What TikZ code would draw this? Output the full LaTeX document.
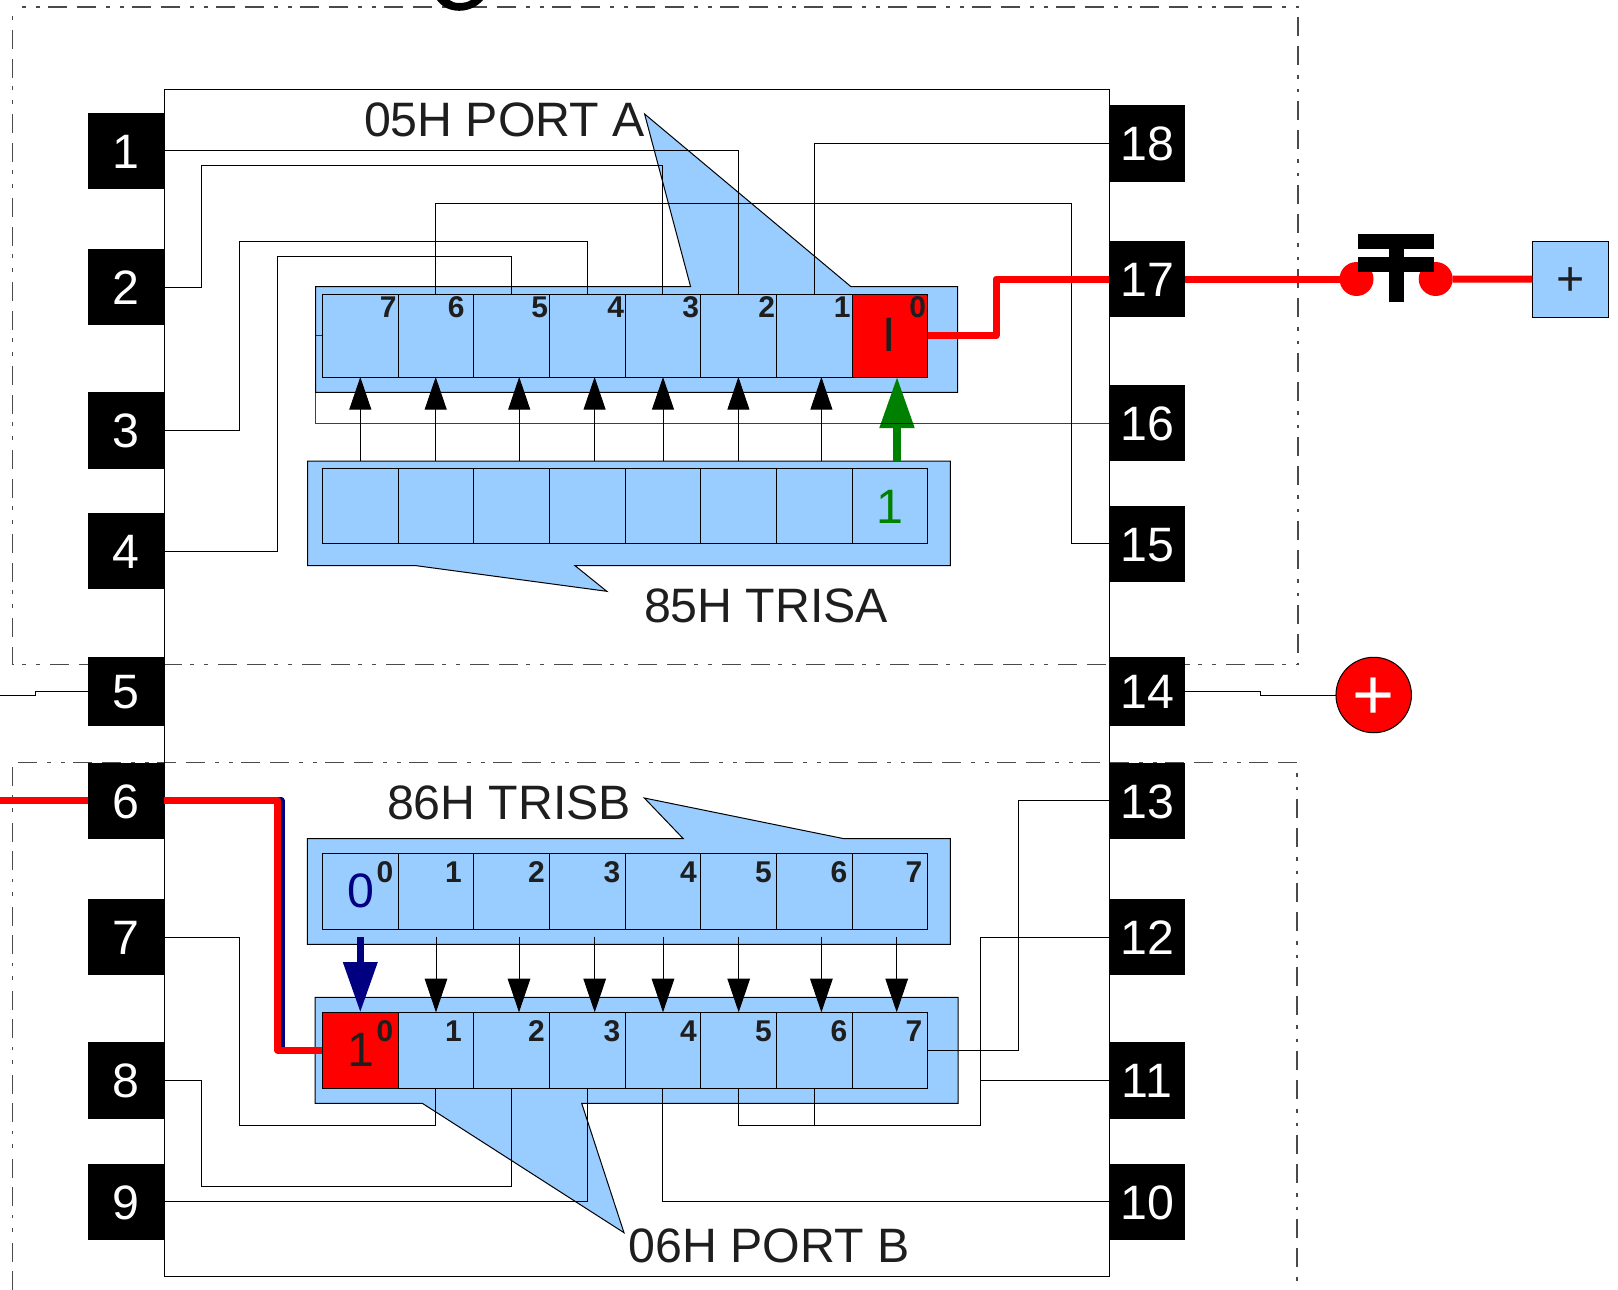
\documentclass[tikz,border=0pt]{standalone}
\usepackage{fontspec}
\setmainfont{Liberation Sans}
\usetikzlibrary{arrows.meta}
\definecolor{regblue}{HTML}{99CCFF}
\definecolor{ink}{HTML}{1E1E1E}
\definecolor{dashgrey}{HTML}{4A4A4A}
\definecolor{darkgreen}{HTML}{008000}
\definecolor{darknavy}{HTML}{000080}
\newcommand{\bigfont}{\fontsize{48.3}{48.3}\selectfont}
\newcommand{\bitfont}{\fontsize{30}{30}\selectfont\bfseries}
\tikzset{
  wire/.style={draw=black,line width=1pt},
  boundary/.style={draw=dashgrey,line width=1.5pt,dash pattern=on 19pt off 9.5pt on 19pt off 10.3pt on 4pt off 10pt on 3.5pt off 8.7pt},
  regfill/.style={fill=regblue,draw=black,line width=1pt,line join=miter},
  cellbox/.style={rectangle,fill=regblue,draw=black,line width=1pt,inner sep=0pt,outer sep=0pt,minimum width=75.7pt},
  pinbox/.style={rectangle,fill=black,inner sep=0pt,outer sep=0pt,minimum width=76.4pt,minimum height=76.4pt,text=white,font=\bigfont,text height=34.9pt,text depth=0pt},
  shortpin/.style={pinbox,minimum height=69pt},
  biglabel/.style={inner sep=0pt,outer sep=0pt,anchor=base west,text=ink,font=\bigfont},
  bitlabel/.style={inner sep=0pt,outer sep=0pt,anchor=base east,text=ink,font=\bitfont},
  cellvalue/.style={inner sep=0pt,outer sep=0pt,anchor=base,font=\bigfont},
  upflow/.style={draw=black,line width=1pt,-{Triangle[length=32.7pt,width=22pt,fill=black]}},
  downflow/.style={draw=black,line width=1pt,-{Triangle[length=33.7pt,width=22.6pt,fill=black]}},
  hotwire/.style={draw=red,line width=7pt,line join=round},
  terminal/.style={circle,fill=red,inner sep=0pt,outer sep=0pt,minimum size=34pt},
}
\begin{document}
\begin{tikzpicture}[x=1pt,y=-1pt]
\useasboundingbox (0,0) rectangle (1618,1290);
\clip (0,0) rectangle (1618,1290);

% dash-dot boundaries
\draw[boundary,dash phase=48.4pt] (12.7,6.8) -- (1298,6.8) -- (1298,664.7) -- (12.7,664.7) -- cycle;
\draw[boundary] (12.7,1290) -- (12.7,762.7) -- (1297,762.7) -- (1297,1290);

% clipped letter at the top edge
\fill[black] (437,0) .. controls (442,7) and (450,10.8) .. (459.3,10.8) .. controls (468,10.8) and (477,7) .. (483,0) -- (471,0) .. controls (468,2) and (464,3) .. (459.3,3) .. controls (455,3) and (452,2) .. (449.5,0) -- cycle;

% chip body
\draw[wire] (164.3,90) rectangle (1109,1276.7);

% register plates with callouts
\path[regfill] (315.6,286.7) -- (690.6,286.7) -- (644.6,114) -- (851,286.7) -- (957.6,286.7) -- (957.6,392.3) -- (315.6,392.3) -- cycle;
\path[regfill] (307.5,461) -- (950.4,461) -- (950.4,565.5) -- (574.8,565.5) -- (606.8,591.3) -- (414.8,565.5) -- (307.5,565.5) -- cycle;
\path[regfill] (307.3,838.7) -- (683.3,838.7) -- (644.3,798) -- (844,838.7) -- (950.4,838.7) -- (950.4,944.3) -- (307.3,944.3) -- cycle;
\path[regfill] (315,997.3) -- (958,997.3) -- (958,1103.3) -- (581.7,1103.3) -- (624,1232.7) -- (422.3,1103.3) -- (315,1103.3) -- cycle;

% register cells
\foreach \n/\x in {7/360.15,6/435.85,5/511.55,4/587.25,3/662.95,2/738.65,1/814.35,0/890.05}{
  \node[cellbox,minimum height=82.7pt] (pa\n) at (\x,335.65) {};
  \node[cellbox,minimum height=75.3pt] (ta\n) at (\x,506.15) {};
}
\foreach \n/\x in {0/360.15,1/435.85,2/511.55,3/587.25,4/662.95,5/738.65,6/814.35,7/890.05}{
  \node[cellbox,minimum height=76pt] (tb\n) at (\x,891.3) {};
  \node[cellbox,minimum height=75.7pt] (pb\n) at (\x,1050.15) {};
}
\node[cellbox,fill=red,minimum height=82.7pt] (pa0) at (890.05,335.65) {};
\node[cellbox,fill=red,minimum height=75.7pt] (pb0) at (360.15,1050.15) {};

% pins
\foreach \n/\y in {1/150.7,2/287,3/430.4,4/551,6/800.7,7/937,8/1080.4,9/1201.7}{
  \node[pinbox] (p\n) at (126,\y) {\n};
}
\foreach \n/\y in {18/143.3,17/279,16/423,15/543.8,13/800.7,12/937,11/1080.4,10/1201.7}{
  \node[pinbox] (p\n) at (1147,\y) {\n};
}
\node[shortpin] (p5) at (126,691.2) {5};
\node[shortpin] (p14) at (1147,691.2) {14};

% free ends
\coordinate (off5) at (0,695);
\coordinate (off6) at (0,800.7);
\coordinate (tatop) at (0,461);
\coordinate (tbtop) at (0,936.7);

% port A wiring
\draw[wire] (p1.east) -| (pa2.north);
\draw[wire] (p2.east) -| (201.2,165.7) -| (pa3.north);
\draw[wire] (p3.east) -| (239.4,241.3) -| (pa4.north);
\draw[wire] (p4.east) -| (277.6,256.3) -| (pa5.north);
\draw[wire] (p18.west) -| (pa1.north);
\draw[wire] (p15.west) -| (1071,203.3) -| (pa6.north);

% port B wiring
\draw[wire] (p7.east) -| (239.4,1125.7) -| (pb1.south);
\draw[wire] (p8.east) -| (201.2,1186.3) -| (pb2.south);
\draw[wire] (p9.east) -| (pb3.south);
\draw[wire] (p10.west) -| (pb4.south);
\draw[wire] (p12.west) -| (980.7,1125.7) -| (pb5.south);
\draw[wire] (980.7,1125.7) -| (pb6.south);
\draw[wire] (p11.west) -- (980.7,1080.4);
\draw[wire] (p13.west) -| (1018.3,1050.15) -- (pb7.east);

% supply wires
\draw[wire] (p5.west) -- (35.7,691.2) -- (35.7,695) -- (off5);
\node[circle,fill=red,draw=black,line width=1pt,inner sep=0pt,outer sep=0pt,minimum size=75.5pt,text=white,font=\fontsize{72}{72}\selectfont] (vcc) at (1373.7,695) {\raisebox{-24.2pt}[0pt][0pt]{+}};
\draw[wire] (p14.east) -- (1260,691.2) -- (1260,695) -- (vcc.west);

% TRIS to PORT arrows
\foreach \x in {360.3,435.7,519.2,594.6,663,738.4,821.4}{
  \draw[upflow] (\x,0 |- tatop) -- (\x,0 |- pa0.south);
}
\draw[draw=darkgreen,line width=7.3pt,-{Triangle[length=51pt,width=33.3pt,fill=darkgreen]}] (897,0 |- tatop) -- (897,0 |- pa0.south);
\draw[wire,draw opacity=0.75] (p16.west) -| (315.6,335.65) -- (pa7.west);
\foreach \x in {436,519,594.7,663,738.7,821.4,896.7}{
  \draw[downflow] (\x,0 |- tbtop) -- (\x,0 |- pb0.north);
}
\draw[draw=darknavy,line width=7pt,-{Triangle[length=50.3pt,width=33pt,fill=darknavy]}] (360.3,0 |- tbtop) -- (360.3,0 |- pb0.north);

% hot path
\draw[draw=darknavy,line width=7pt,line join=round] (270,800.7) -- (281,800.7) -- (281,1050.15) -- (pb0.west);
\draw[hotwire] (off6) -- (p6.west);
\draw[hotwire] (p6.east) -| (277.8,1050.15) -- (pb0.west);
\draw[hotwire] (pa0.east) -| (996,279) -- (p17.west);

% push button and supply box
\node[terminal] (swl) at (1356.5,279) {};
\node[terminal] (swr) at (1435.7,279) {};
\node[rectangle,fill=regblue,draw=black,line width=1pt,inner sep=0pt,outer sep=0pt,minimum width=76pt,minimum height=75.7pt,text=ink,font=\bigfont] (plusbox) at (1570.3,279.2) {\raisebox{-16pt}[0pt][0pt]{+}};
\draw[hotwire] (p17.east) -- (swl);
\draw[hotwire] (swr) -- (plusbox.west);
\fill[black] (1357.9,234) rectangle (1434.3,248.7);
\fill[black] (1357.9,256.7) rectangle (1434.3,271.7);
\fill[black] (1388.6,234) rectangle (1404,301.7);

% captions
\node[biglabel] (lpa) at (364,136) {05H PORT A};
\node[biglabel] (lta) at (644,622) {85H TRISA};
\node[biglabel] (ltb) at (387,819.5) {86H TRISB};
\node[biglabel] (lpb) at (628.5,1262.5) {06H PORT B};

% bit numbers
\foreach \n/\x in {7/396.5,6/464.5,5/548,4/624,3/699,2/775,1/850.5,0/926}{
  \node[bitlabel] (bpa\n) at (\x,317.3) {\n};
}
\foreach \n/\x in {0/393.2,1/461.7,2/544.7,3/620.2,4/696.7,5/771.7,6/847.2,7/922.2}{
  \node[bitlabel] (btb\n) at (\x,882.7) {\n};
  \node[bitlabel] (bpb\n) at (\x,1041.5) {\n};
}

% cell values
\node[cellvalue,text=ink] (vpa) at (889.7,351.7) {I};
\node[cellvalue,text=darkgreen] (vta) at (889.5,523) {1};
\node[cellvalue,text=darknavy] (vtb) at (360.5,907.7) {0};
\node[cellvalue,text=ink] (vpb) at (360.7,1066.7) {1};
\end{tikzpicture}
\end{document}
